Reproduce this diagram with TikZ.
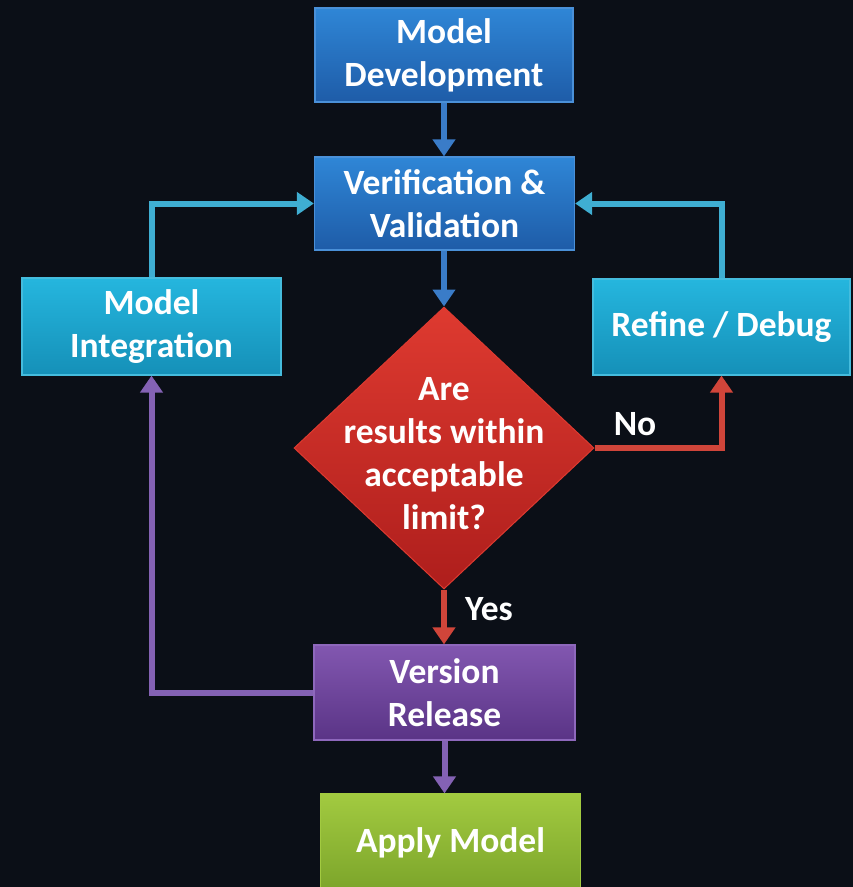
\documentclass[tikz,border=0pt]{standalone}
\usepackage{fontspec}
\setmainfont{Carlito}
\usetikzlibrary{arrows.meta,shapes.geometric}

\definecolor{bg}{HTML}{0B0F17}
\definecolor{blueA}{HTML}{2F86D6}
\definecolor{blueB}{HTML}{1E5CA8}
\definecolor{blueE}{HTML}{4A90D8}
\definecolor{cyanA}{HTML}{25B6DE}
\definecolor{cyanB}{HTML}{1590B8}
\definecolor{cyanE}{HTML}{45BCDD}
\definecolor{redA}{HTML}{DE3A30}
\definecolor{redB}{HTML}{AE1E1C}
\definecolor{purA}{HTML}{8257B0}
\definecolor{purB}{HTML}{5A3486}
\definecolor{purE}{HTML}{8E68BC}
\definecolor{grnA}{HTML}{A2CA40}
\definecolor{grnB}{HTML}{7BA42A}
\definecolor{lnBlue}{HTML}{3A7CC8}
\definecolor{lnCyan}{HTML}{3FAED2}
\definecolor{lnRed}{HTML}{D0453A}
\definecolor{lnPur}{HTML}{8462B4}

\tikzset{
  bigtext/.style={font=\fontsize{35.5}{43}\selectfont\bfseries},
  box/.style={rectangle, inner sep=0pt, line width=1.2pt,
    text=white, align=center, bigtext},
  bluebox/.style={box, top color=blueA, bottom color=blueB, draw=blueE},
  cyanbox/.style={box, top color=cyanA, bottom color=cyanB, draw=cyanE},
  purbox/.style={box, top color=purA, bottom color=purB, draw=purE},
  grnbox/.style={box, top color=grnA, bottom color=grnB, draw=grnA},
  lbl/.style={text=white, bigtext, inner sep=0pt},
  flow/.style={line width=6pt, -{Triangle[width=22pt,length=17pt]}},
}

\begin{document}
\begin{tikzpicture}[x=1pt,y=-1pt]
  \clip (0,0) rectangle (853,887);
  \fill[bg] (0,0) rectangle (853,887);

  % boxes
  \node[bluebox, minimum width=258pt, minimum height=94pt] (dev) at (444,55) {Model\\Development};
  \node[bluebox, minimum width=260pt, minimum height=93pt] (vv) at (444.5,203.5) {Verification \&\\Validation};
  \node[cyanbox, minimum width=259pt, minimum height=97pt] (integ) at (151.5,326.5) {Model\\Integration};
  \node[cyanbox, minimum width=257pt, minimum height=96pt] (refine) at (721.5,327) {Refine / Debug};
  \node[shape=diamond, inner sep=0pt, minimum width=300pt, minimum height=282pt,
        top color=redA, bottom color=redB, draw=redA, line width=1pt] (dec) at (444,448) {};
  \node[lbl, align=center] (q) at ([yshift=-6pt]dec.center) {Are\\results within\\acceptable\\limit?};
  \node[purbox, minimum width=261pt, minimum height=95pt] (rel) at (444.5,692.5) {Version\\Release};
  \node[grnbox, minimum width=260pt, minimum height=98pt] (apply) at (450.5,843) {Apply Model};

  % connectors
  \draw[flow, lnBlue] (dev.south) -- (dev.south |- vv.north);
  \draw[flow, lnBlue] (dec.north |- vv.south) -- (dec.north);
  \draw[flow, lnCyan] (integ.north) |- (vv.west);
  \draw[flow, lnCyan] (refine.north) |- (vv.east);
  \draw[flow, lnRed] (dec.east) -| (refine.south);
  \draw[flow, lnRed] (dec.south) -- (dec.south |- rel.north);
  \draw[flow, lnPur] (rel.west) -| (integ.south);
  \draw[flow, lnPur] (rel.south) -- (rel.south |- apply.north);

  % branch labels
  \node[lbl] (no) at (635,424) {No};
  \node[lbl] (yes) at (489,609) {Yes};
\end{tikzpicture}
\end{document}
